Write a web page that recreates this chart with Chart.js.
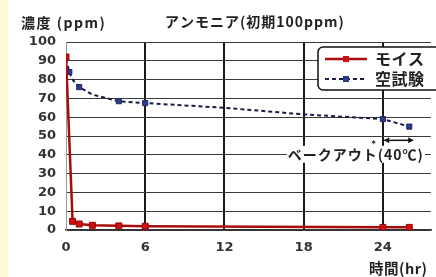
<!DOCTYPE html>
<html><head><meta charset="utf-8">
<script src="https://cdn.jsdelivr.net/npm/chart.js@4/dist/chart.umd.min.js"></script>
<style>
html,body{margin:0;padding:0;background:#fff;overflow:hidden}
#strip{position:absolute;left:0;top:0;width:8px;height:277px;background:#fdfbd3}
#wrap{position:absolute;left:0;top:0;width:436px;height:277px}
</style></head>
<body><div id="strip"></div><div id="wrap"><canvas id="c"></canvas></div>
<script>
// ---- data ----
const seriesNames = ['モイス', '空試験'];
const moisHours  = [0, 0.5, 1, 2, 4, 6, 24, 26];
const moisValues = [92, 4.6, 3.2, 2.5, 2.2, 2.0, 1.4, 1.4];
const blankHours  = [0, 0.25, 0.5, 1, 2, 4, 6, 12, 18, 24, 26];
const blankValues = [91, 84, 80, 76, 72, 68.5, 67.5, 65, 61.5, 59, 55];
const xTicks = [0, 6, 12, 18, 24];
const yTicks = [0, 10, 20, 30, 40, 50, 60, 70, 80, 90, 100];
const yTitle = '濃度 (ppm)';
const mainTitle = 'アンモニア(初期100ppm)';
const xTitle = '時間(hr)';
const noteText = 'ベークアウト(40℃)';

const CJK = '"Noto Sans CJK JP", "Noto Sans", sans-serif';
const NUM = '"DejaVu Sans", sans-serif';

const toPts = (xs, ys) => xs.map((x, i) => ({x, y: ys[i]}));

const overlay = {
  id: 'overlay',
  afterDatasetsDraw(chart) {
    const ctx = chart.ctx, xs = chart.scales.x, ys = chart.scales.y;
    ctx.save();
    // titles
    ctx.fillStyle = '#222';
    ctx.textBaseline = 'middle';
    ctx.textAlign = 'left';
    ctx.font = 'bold 14px ' + CJK;
    ctx.letterSpacing = '1.5px';
    ctx.fillText(yTitle, 21, 23);
    ctx.letterSpacing = '1px';
    ctx.fillText(mainTitle, 165, 22);
    ctx.letterSpacing = '0.5px';
    ctx.font = 'bold 14.5px ' + CJK;
    ctx.fillText(xTitle, 369, 268);

    // annotation
    const cx = xs.getPixelForValue(21.95), cy = ys.getPixelForValue(40);
    ctx.font = 'bold 14px ' + CJK;
    ctx.letterSpacing = '1px';
    const w = ctx.measureText(noteText).width;
    ctx.fillStyle = '#fff';
    ctx.fillRect(cx - w / 2 - 1, cy - 9, w + 2, 17);
    ctx.fillStyle = '#222';
    ctx.textAlign = 'center';
    ctx.fillText(noteText, cx, cy);
    ctx.letterSpacing = '0px';
    ctx.font = 'bold 8px ' + NUM;
    ctx.fillText('*', xs.getPixelForValue(23.3), cy - 10);
    // double arrow
    const ax1 = xs.getPixelForValue(24.1), ax2 = xs.getPixelForValue(26.3), ay = ys.getPixelForValue(47.7);
    ctx.strokeStyle = '#111'; ctx.lineWidth = 1.5;
    ctx.beginPath(); ctx.moveTo(ax1, ay); ctx.lineTo(ax2, ay); ctx.stroke();
    ctx.fillStyle = '#111';
    ctx.beginPath(); ctx.moveTo(ax1, ay); ctx.lineTo(ax1 + 5, ay - 3); ctx.lineTo(ax1 + 5, ay + 3); ctx.closePath(); ctx.fill();
    ctx.beginPath(); ctx.moveTo(ax2, ay); ctx.lineTo(ax2 - 5, ay - 3); ctx.lineTo(ax2 - 5, ay + 3); ctx.closePath(); ctx.fill();

    // legend box
    const lx = 318, ly = 47, lw = 130, lh = 43;
    ctx.fillStyle = '#fff';
    ctx.strokeStyle = '#111'; ctx.lineWidth = 1.5;
    ctx.beginPath();
    ctx.roundRect(lx, ly, lw, lh, 5);
    ctx.fill(); ctx.stroke();
    const ds = chart.data.datasets;
    const rows = [59, 79];
    rows.forEach((ry, i) => {
      const d = ds[i];
      ctx.strokeStyle = d.borderColor; ctx.lineWidth = d.borderWidth;
      ctx.setLineDash(d.borderDash || []);
      ctx.beginPath(); ctx.moveTo(325, ry); ctx.lineTo(367, ry); ctx.stroke();
      ctx.setLineDash([]);
      ctx.fillStyle = d.pointBackgroundColor;
      ctx.fillRect(343, ry - 3, 6, 6);
      ctx.fillStyle = '#222';
      ctx.textAlign = 'left';
      ctx.font = 'bold 16px ' + CJK;
      ctx.letterSpacing = '0.5px';
      ctx.fillText(seriesNames[i], 375, ry);
    });
    ctx.restore();
  }
};

new Chart(document.getElementById('c'), {
  type: 'line',
  data: {
    datasets: [
      {
        label: seriesNames[0],
        data: toPts(moisHours, moisValues),
        borderColor: '#a80c0c',
        borderWidth: 2.5,
        pointStyle: 'rect',
        pointRadius: 4.2,
        pointBackgroundColor: '#cc1010',
        pointBorderColor: '#a00000',
        pointBorderWidth: 1,
        tension: 0
      },
      {
        label: seriesNames[1],
        data: toPts(blankHours, blankValues),
        borderColor: '#1c1c48',
        borderWidth: 2,
        borderDash: [4, 3],
        pointStyle: 'rect',
        pointRadius: [0, 3.6, 0, 3.6, 0, 3.6, 3.6, 0, 0, 3.6, 3.6],
        pointBackgroundColor: '#2a3a86',
        pointBorderColor: '#1c2a66',
        pointBorderWidth: 1,
        tension: 0
      }
    ]
  },
  options: {
    responsive: true,
    maintainAspectRatio: false,
    animation: false,
    layout: {padding: {top: 42, left: 0, right: 0, bottom: 0}},
    plugins: {legend: {display: false}, tooltip: {enabled: false}},
    scales: {
      x: {
        type: 'linear', min: 0, max: 27.63,
        afterBuildTicks: s => { s.ticks = xTicks.map(v => ({value: v})); },
        afterFit: s => { s.height = 47; },
        grid: {
          drawTicks: false,
          color: c => (c.tick && c.tick.value === 0) ? 'rgba(0,0,0,0)' : '#1a1a1a',
          lineWidth: 2
        },
        border: {display: true, color: '#333', width: 1.5},
        ticks: {padding: 10, autoSkip: false, maxRotation: 0, color: '#333',
                font: {family: NUM, weight: 'bold', size: 13}}
      },
      y: {
        min: 0, max: 100,
        afterBuildTicks: s => { s.ticks = yTicks.map(v => ({value: v})); },
        afterFit: s => { s.width = 66; },
        grid: {drawTicks: false, color: '#3a3a3a', lineWidth: 1},
        border: {display: true, color: '#999', width: 1},
        ticks: {padding: 10, color: '#333', font: {family: NUM, weight: 'bold', size: 13}}
      }
    }
  },
  plugins: [overlay]
});
</script>
</body></html>
